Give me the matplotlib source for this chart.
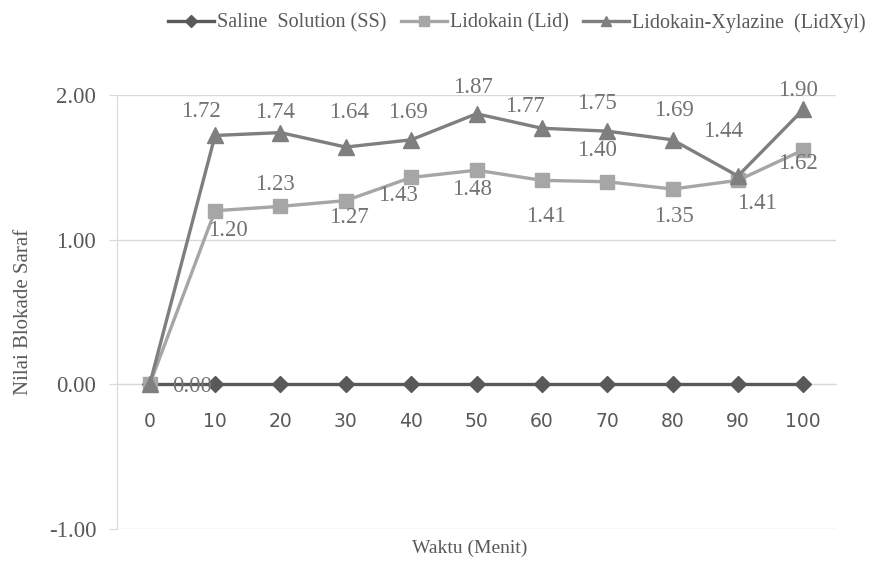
import matplotlib.pyplot as plt
import numpy as np

waktu = ['0', '10', '20', '30', '40', '50', '60', '70', '80', '90', '100']
ss = [0, 0, 0, 0, 0, 0, 0, 0, 0, 0, 0]
lid = [0, 1.20, 1.23, 1.27, 1.43, 1.48, 1.41, 1.40, 1.35, 1.41, 1.62]
lidxyl = [0, 1.72, 1.74, 1.64, 1.69, 1.87, 1.77, 1.75, 1.69, 1.44, 1.90]

# label offsets in pixels (dx, dy), None = no label
lid_off = [(42, -2), (13, -20), (-6, 22), (3, -17), (-13, -18), (-4, -19),
           (4, -36), (-10, 31), (1, -27), (19, -23), (-5, -14)]
xyl_off = [None, (-14, 24), (-5, 20), (3, 35), (-3, 27), (-4, 26),
           (-17, 22), (-10, 28), (1, 29), (-15, 44), (-5, 19)]

serif = 'Liberation Serif'
lab_col = '#737373'

fig = plt.figure(figsize=(8.72, 5.62), dpi=100)
ax = fig.add_axes([0.1342, 0.0587, 0.8245, 0.7723])
# move the x axis to y=0 first, it resets the tick labels
ax.spines['bottom'].set_position(('data', 0))

x = np.arange(len(waktu))
l1, = ax.plot(x, ss, color='#595959', lw=2.4, marker='D', ms=8.5, zorder=3)
l2, = ax.plot(x, lid, color='#A6A6A6', lw=2.4, marker='s', ms=10.5, zorder=4)
l3, = ax.plot(x, lidxyl, color='#7F7F7F', lw=2.4, marker='^', ms=11, zorder=5)

for xi, v, off in zip(x, lid, lid_off):
    if off is None:
        continue
    ax.annotate(f'{v:.2f}', (xi, v), xytext=off, textcoords='offset pixels',
                ha='center', va='center', fontsize=16.5, family=serif,
                color=lab_col, zorder=6, annotation_clip=False)
for xi, v, off in zip(x, lidxyl, xyl_off):
    if off is None:
        continue
    ax.annotate(f'{v:.2f}', (xi, v), xytext=off, textcoords='offset pixels',
                ha='center', va='center', fontsize=16.5, family=serif,
                color=lab_col, zorder=6, annotation_clip=False)

ax.set_xlim(-0.5, len(waktu) - 0.5)
ax.set_ylim(-1, 2)
ax.set_yticks([-1, 0, 1, 2])
ax.set_yticklabels(['-1.00', '0.00', '1.00', '2.00'], family=serif,
                   fontsize=16.5, color='#595959')
ax.set_xticks(x)
ax.set_xticklabels(waktu, family='DejaVu Sans', fontsize=13.5, color='#595959')

ax.grid(axis='y', color='#D9D9D9', lw=1)
ax.set_axisbelow(True)
for s in ['top', 'right']:
    ax.spines[s].set_visible(False)
ax.spines['bottom'].set_color('#D9D9D9')
ax.spines['left'].set_color('#D9D9D9')
ax.tick_params(axis='x', length=0, pad=20)
ax.tick_params(axis='y', length=6, color='#D9D9D9', pad=9)

ax.set_ylabel('Nilai Blokade Saraf', family=serif, fontsize=15, color='#595959')
ax.yaxis.set_label_coords(-0.117, 0.5)
fig.text(470 / 872, 1 - 548 / 562, 'Waktu (Menit)', family=serif, fontsize=14,
         color='#595959', ha='center', va='center')

fig.legend([l1, l2, l3],
           ['Saline  Solution (SS)', 'Lidokain (Lid)', 'Lidokain-Xylazine  (LidXyl)'],
           loc='center left', bbox_to_anchor=(168 / 872, 1 - 23 / 562), ncol=3,
           frameon=False, prop={'family': serif, 'size': 14.5}, labelcolor='#595959',
           handlelength=2.3, handletextpad=0.15, columnspacing=0.7,
           borderaxespad=0, borderpad=0, markerscale=0.7)

fig.savefig('out.png', dpi=100)
